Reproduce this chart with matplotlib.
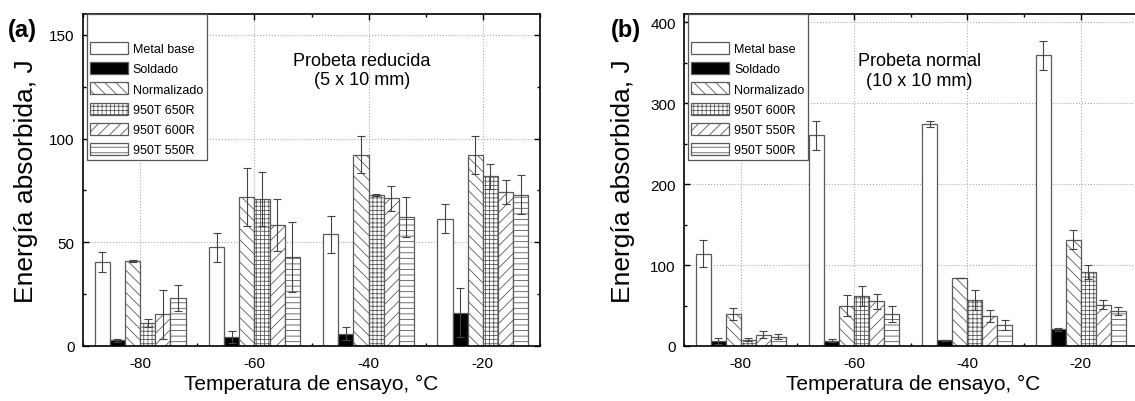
import matplotlib.pyplot as plt
import numpy as np
from matplotlib.ticker import MultipleLocator

plt.rcParams['font.family'] = ['Liberation Sans', 'DejaVu Sans']
plt.rcParams['hatch.linewidth'] = 0.6
plt.rcParams['axes.unicode_minus'] = False

# Datos comunes
temps = [-80, -60, -40, -20]

# (a) Probeta reducida (5 x 10 mm)
labels_a = ['Metal base', 'Soldado', 'Normalizado', '950T 650R', '950T 600R', '950T 550R']
metal_a = [40.5, 47.5, 53.8, 61.3]
metal_a_err = [4.8, 7.0, 8.8, 7.0]
sold_a = [2.8, 4.3, 6.0, 16.0]
sold_a_err = [0.8, 2.7, 3.0, 11.8]
norm_a = [41.0, 72.0, 92.2, 92.0]
norm_a_err = [0.5, 14.0, 9.0, 9.3]
r650_a = [11.2, 70.7, 72.8, 81.8]
r650_a_err = [2.0, 13.0, 0.5, 6.0]
r600_a = [15.3, 58.4, 71.3, 74.2]
r600_a_err = [11.8, 12.6, 6.0, 5.7]
r550_a = [23.3, 42.8, 62.0, 73.0]
r550_a_err = [6.2, 17.0, 9.6, 9.2]

# (b) Probeta normal (10 x 10 mm)
labels_b = ['Metal base', 'Soldado', 'Normalizado', '950T 600R', '950T 550R', '950T 500R']
metal_b = [114, 260, 274, 359]
metal_b_err = [17, 18, 4, 18]
sold_b = [6.2, 6.6, 7.0, 20.5]
sold_b_err = [3.7, 2.0, 1.0, 2.0]
norm_b = [39.5, 50.0, 84.0, 131.5]
norm_b_err = [8.0, 12.4, 0.5, 12.3]
r600_b = [8.0, 62.0, 56.5, 91.0]
r600_b_err = [2.0, 12.4, 12.4, 8.7]
r550_b = [14.0, 55.0, 37.0, 51.0]
r550_b_err = [4.0, 9.7, 7.6, 5.6]
r500_b = [11.6, 39.3, 25.6, 43.0]
r500_b_err = [3.0, 9.5, 6.0, 5.0]

# Estilo de cada serie
colores = ['white', 'black', 'white', 'white', 'white', 'white']
tramas = [None, None, '\\\\\\', '++++', '///', '---']
borde = '#5a5a5a'


def panel(ax, series, errores, etiquetas, ymax, ymajor, yminor, texto, tx, ty, letra, lx):
    x = np.array(temps, dtype=float)
    w = 2.65
    n = len(series)
    for i, (vals, errs) in enumerate(zip(series, errores)):
        pos = x + (i - (n - 1) / 2) * w
        ax.bar(pos, vals, w, color=colores[i], edgecolor=borde, hatch=tramas[i],
               linewidth=0.9, label=etiquetas[i], zorder=2)
        ax.errorbar(pos, vals, yerr=errs, fmt='none', ecolor='#444444',
                    elinewidth=0.8, capsize=3.2, capthick=0.8, zorder=3)
    ax.set_ylim(0, ymax)
    ax.set_xticks(temps)
    ax.xaxis.set_minor_locator(MultipleLocator(10))
    ax.yaxis.set_major_locator(MultipleLocator(ymajor))
    ax.yaxis.set_minor_locator(MultipleLocator(yminor))
    ax.tick_params(which='both', direction='in', top=True, right=True, labelsize=11)
    ax.tick_params(which='major', length=4, width=1)
    ax.tick_params(which='minor', length=2, width=1)
    ax.tick_params(axis='y', pad=6)
    ax.tick_params(axis='x', pad=7)
    ax.grid(True, which='major', linestyle=':', color='#aaaaaa', linewidth=0.8, zorder=0)
    for s in ax.spines.values():
        s.set_linewidth(1.2)
    ax.set_xlabel('Temperatura de ensayo, °C', fontsize=15)
    ax.set_ylabel('Energía absorbida, J', fontsize=19)
    ax.xaxis.set_label_coords(0.5, -0.085)
    ax.text(tx, ty, texto, ha='center', va='center', fontsize=13, linespacing=1.2)
    leg = ax.legend(loc='upper left', bbox_to_anchor=(0.008, 1.0), borderaxespad=0,
                    fontsize=9, title=' ', title_fontsize=13, fancybox=False,
                    edgecolor='#555555', framealpha=1, handlelength=3.0,
                    handleheight=1.1, handletextpad=0.4, labelspacing=0.56,
                    borderpad=0.3)
    leg.get_frame().set_linewidth(0.9)
    ax.figure.text(lx, 1 - 31 / 402, letra, fontsize=17, fontweight='bold',
                   ha='center', va='center')


fig = plt.figure(figsize=(11.35, 4.02), dpi=100)
ax_a = fig.add_axes([83 / 1135, 55 / 402, 457 / 1135, 332 / 402])
ax_b = fig.add_axes([684 / 1135, 55 / 402, 458 / 1135, 332 / 402])

panel(ax_a,
      [metal_a, sold_a, norm_a, r650_a, r600_a, r550_a],
      [metal_a_err, sold_a_err, norm_a_err, r650_a_err, r600_a_err, r550_a_err],
      labels_a, 160, 50, 25, 'Probeta reducida\n(5 x 10 mm)', -41.2, 133, '(a)', 22 / 1135)
ax_a.set_xlim(-90, -10)
ax_a.yaxis.set_label_coords(-0.098, 0.5)

panel(ax_b,
      [metal_b, sold_b, norm_b, r600_b, r550_b, r500_b],
      [metal_b_err, sold_b_err, norm_b_err, r600_b_err, r550_b_err, r500_b_err],
      labels_b, 410, 100, 50, 'Probeta normal\n(10 x 10 mm)', -48.5, 340, '(b)', 626 / 1135)
ax_b.set_xlim(-90, -9.2)
ax_b.yaxis.set_label_coords(-0.108, 0.5)

fig.savefig('out.png', dpi=100)
